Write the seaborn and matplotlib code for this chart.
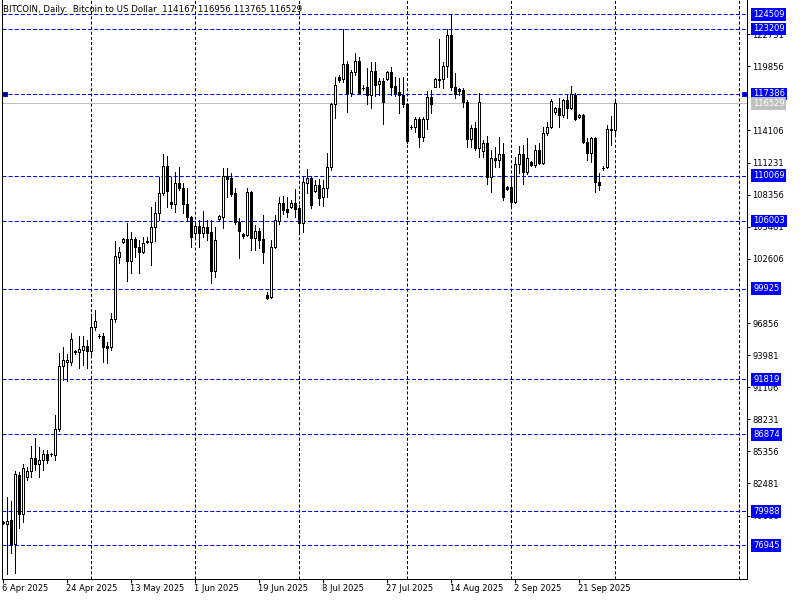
import numpy as np
import pandas as pd
import matplotlib
matplotlib.use('Agg')
import matplotlib.pyplot as plt
import seaborn as sns

# daily BTCUSD bars, 6 Apr 2025 .. 1 Oct 2025 (broker feed, ~6 bars a week)
opens = [78940, 78850, 79200, 77060, 83240, 79740, 83060, 83600, 84760, 84220,
         84580, 85120, 85100, 85030, 87360, 93000, 93360, 93360, 94350, 94260,
         94440, 94800, 94350, 96500, 95700, 95690, 94800, 94710, 97220, 102770,
         104110, 104380, 102410, 104380, 103670, 103220, 104200, 104110, 105460, 106710,
         108500, 110920, 107700, 107520, 109400, 108950, 107520, 106350, 104920, 105550,
         104920, 105460, 105010, 101520, 106180, 106350, 110030, 109850, 108500, 105910,
         104830, 104740, 108590, 104470, 105100, 104380, 99370, 99190, 103670, 106000,
         107610, 107070, 107250, 107610, 107160, 105820, 109400, 109850, 108680, 109220,
         108150, 108950, 110830, 116480, 118900, 118720, 120060, 117460, 119350, 120330,
         117910, 118000, 117290, 119440, 118270, 118540, 118720, 119350, 118090, 117550,
         117290, 116480, 114410, 114420, 115140, 113520, 115140, 117110, 118000, 118630,
         118720, 119880, 122660, 118000, 117820, 117730, 116660, 113340, 114330, 112540,
         112270, 112980, 109940, 111640, 111460, 112000, 109040, 109040, 107700, 111100,
         112000, 110390, 111280, 111010, 112360, 111190, 113880, 114420, 115760, 116120,
         115490, 116840, 116120, 117290, 115310, 115490, 113070, 112090, 113430, 109490,
         110740, 110830, 114240, 114167]
highs = [79120, 81270, 80910, 83600, 83510, 84220, 83950, 85840, 86550, 85750,
         85480, 85480, 85210, 88610, 94170, 94710, 94080, 95960, 94440, 95690,
         95690, 95330, 97660, 98020, 95870, 95960, 95150, 97750, 104200, 103670,
         104470, 105820, 105010, 104560, 104290, 104560, 104560, 107250, 107700, 109940,
         112000, 111820, 109940, 110390, 110830, 109400, 108950, 106440, 105820, 106090,
         106890, 106090, 106090, 105460, 106530, 110740, 110740, 110300, 108950, 106260,
         104920, 108950, 108680, 105640, 105370, 106530, 99630, 104290, 106530, 108150,
         108240, 108150, 107880, 108860, 107430, 109940, 110660, 109940, 109670, 109760,
         109670, 112090, 116560, 118900, 119080, 123209, 120330, 119530, 121050, 120690,
         118180, 119700, 120240, 120240, 118810, 118810, 119400, 119790, 118900, 118810,
         118900, 116570, 114600, 115310, 115310, 115310, 117640, 117730, 118810, 122300,
         120240, 123200, 124509, 119260, 117900, 117910, 116840, 114600, 114870, 117460,
         113250, 113610, 112360, 112630, 113520, 112980, 109130, 109940, 111730, 112720,
         112800, 113430, 111370, 112800, 112980, 114420, 114870, 116930, 116210, 117020,
         116930, 117290, 118090, 117460, 115580, 115580, 113430, 113520, 113520, 110300,
         110920, 114600, 115400, 116956]
lows = [78850, 74370, 76250, 74460, 78490, 79030, 82790, 83060, 83690, 83060,
        83690, 84310, 84940, 84580, 87180, 91750, 91660, 93090, 94080, 92820,
        93090, 92820, 93990, 96230, 95510, 93360, 93270, 94440, 96950, 102230,
        104020, 100620, 101340, 102770, 101340, 103130, 104020, 102050, 104200, 106090,
        108330, 107250, 107160, 106800, 108770, 106710, 106090, 103670, 104560, 103670,
        104560, 104290, 100440, 100980, 106090, 105370, 108150, 108240, 105730, 102680,
        104470, 104650, 103400, 103400, 103580, 102230, 99010, 99100, 103580, 105730,
        106620, 106350, 107160, 106350, 104920, 105010, 108500, 107160, 108590, 107430,
        107340, 108150, 110570, 115220, 118450, 118450, 115760, 117200, 119080, 117380,
        117730, 116480, 116120, 117200, 117290, 114690, 118630, 117290, 117200, 115670,
        116210, 112980, 114240, 113970, 112630, 113160, 114240, 115670, 117960, 118000,
        117910, 118900, 117730, 117020, 117290, 116210, 112630, 112630, 112360, 111730,
        111730, 109310, 108590, 110830, 110830, 107880, 108770, 107160, 107610, 110300,
        109310, 110210, 110920, 110830, 111100, 111100, 113700, 114330, 115580, 114420,
        115310, 115220, 116030, 115050, 115220, 112980, 111460, 111280, 108590, 108770,
        110570, 110740, 112800, 113765]
closes = [79030, 79120, 77060, 83330, 79740, 83860, 83600, 84760, 84220, 84580,
          85120, 84580, 85120, 87360, 93000, 93540, 93540, 95420, 94260, 94530,
          94800, 94350, 96500, 97040, 95690, 94710, 94620, 97220, 102860, 103220,
          104380, 102410, 104380, 103670, 103220, 104030, 104110, 105460, 106710, 108500,
          110920, 108680, 107520, 109400, 108950, 107520, 106350, 104560, 105550, 104920,
          105460, 104920, 101520, 104290, 106440, 110030, 109760, 108420, 105910, 105100,
          104650, 108590, 104470, 105100, 104290, 103220, 99100, 103670, 106090, 107610,
          106980, 106800, 107610, 107070, 105820, 109490, 109850, 107430, 109220, 108060,
          108950, 110830, 116480, 118180, 118630, 120060, 117460, 119350, 120330, 117460,
          117920, 117290, 119440, 118180, 118540, 116660, 119340, 118000, 117460, 117290,
          116480, 113160, 114420, 115140, 113520, 115140, 117110, 116480, 118720, 118720,
          119880, 122660, 118000, 117380, 117640, 116660, 113340, 114330, 112540, 116660,
          112980, 109940, 111640, 111460, 112000, 108150, 108860, 107700, 111100, 112000,
          110390, 111640, 111010, 112360, 111190, 113880, 114420, 116750, 116120, 115490,
          116840, 116120, 117380, 115140, 115490, 113070, 112090, 113430, 109490, 109220,
          110750, 114240, 114170, 116529]

date_ticks = [0, 16, 32, 48, 64, 80, 96, 112, 128, 144]
date_labels = ['6 Apr 2025', '24 Apr 2025', '13 May 2025', '1 Jun 2025', '19 Jun 2025',
               '8 Jul 2025', '27 Jul 2025', '14 Aug 2025', '2 Sep 2025', '21 Sep 2025']
grid_bars = [22, 48, 74, 101, 127, 153, 184]

# scale labels that are not hidden behind the level tags
price_ticks = [122731, 119856, 114106, 111231, 108356, 105481, 102606,
               96856, 93981, 91106, 88231, 85356, 82481, 79606]
levels = [124509, 123209, 117386, 110069, 106003, 99925, 91819, 86874, 79988, 76945]
selected_level = 117386
last_price = 116529
title = 'BITCOIN, Daily:  Bitcoin to US Dollar  114167 116956 113765 116529'

df = pd.DataFrame({'open': opens, 'high': highs, 'low': lows, 'close': closes})
df['bar'] = np.arange(len(df))
df['up'] = df['close'] >= df['open']

sns.set_theme(style='white')
plt.rcParams['font.family'] = ['DejaVu Sans']
plt.rcParams['lines.scale_dashes'] = False

W, H = 800, 600
fig = plt.figure(figsize=(8, 6), dpi=100)
fig.patch.set_facecolor('white')
ax = fig.add_axes([2 / W, 1 - 579 / H, 745 / W, 579 / H])
ax.set_facecolor('white')

# vertical dashed grid
for g in grid_bars:
    ax.axvline(g, color='black', lw=0.72, ls=(0, (2.2, 1.5)), zorder=1)

# horizontal level lines
for lv in levels:
    ax.axhline(lv, color='#0000ff', lw=0.72, ls=(0, (2.9, 1.5)), zorder=1)
ax.axhline(last_price, color='#c0c0c0', lw=0.72, zorder=1)

# candles
ax.vlines(df['bar'], df['low'], df['high'], color='black', lw=0.72,
          antialiased=False, zorder=3)
body_low = df[['open', 'close']].min(axis=1)
body_h = (df['close'] - df['open']).abs()
ax.bar(df['bar'], body_h, bottom=body_low, width=0.5,
       color=np.where(df['up'], 'white', 'black'), edgecolor='black',
       linewidth=0.72, antialiased=False, zorder=4)

# handles of the selected line
ax.plot([0.6, 185.4], [selected_level, selected_level], ls='none', marker='s',
        ms=3.2, mfc='#000080', mec='#0000ff', mew=0.7, zorder=6, clip_on=False)

ax.set_xlim(-0.125, 186.125)
ax.set_ylim(73919, 125797)

ax.yaxis.tick_right()
ax.set_yticks(price_ticks)
ax.set_yticklabels([str(p) for p in price_ticks])
ax.tick_params(axis='y', which='both', right=True, left=False, length=2.2,
               width=0.72, pad=1.8, labelsize=6, colors='black', direction='out')

ax.set_xticks(date_ticks)
ax.set_xticklabels(date_labels, ha='left')
ax.tick_params(axis='x', which='both', bottom=True, length=3, width=0.72,
               pad=0.5, labelsize=6, colors='black', direction='out')

ax.spines['top'].set_visible(False)
for s in ax.spines.values():
    s.set_color('black')
    s.set_linewidth(0.72)
ax.grid(False)

# price tags on the right scale
ytr = ax.get_yaxis_transform()
for lv in levels:
    ax.text(751 / 745, lv, str(lv), transform=ytr, ha='left', va='center',
            fontsize=6, color='white', zorder=10, clip_on=False,
            bbox=dict(boxstyle='square,pad=0.22', fc='#0000ff', ec='none'))
ax.text(751 / 745, last_price, str(last_price), transform=ytr, ha='left', va='center',
        fontsize=6, color='white', zorder=10, clip_on=False,
        bbox=dict(boxstyle='square,pad=0.22', fc='#c0c0c0', ec='none'))

fig.text(3 / W, 1 - 10 / H, title, ha='left', va='center', fontsize=6.2, color='black')

fig.savefig('out.png', dpi=100)
